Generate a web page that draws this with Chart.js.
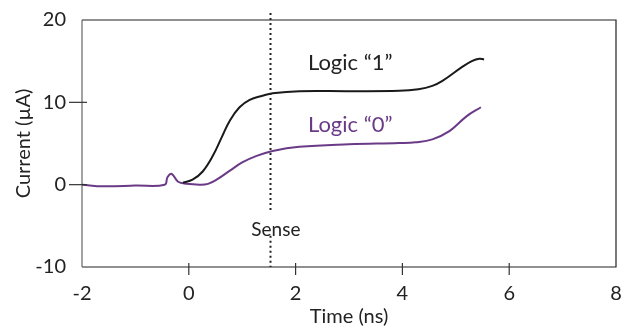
<!DOCTYPE html>
<html>
<head>
<meta charset="utf-8">
<script src="https://cdn.jsdelivr.net/npm/chart.js@4"></script>
<style>
  html, body { margin: 0; padding: 0; background: #fff; }
  #wrap { width: 631px; height: 333px; }
</style>
</head>
<body>
<div id="wrap"><canvas id="myChart"></canvas></div>
<script>
// time in ns, current in uA
const timeOne = [-0.11, 0.07, 0.26, 0.45, 0.62, 0.77, 0.95, 1.14, 1.38, 1.57, 2.07, 3.0, 3.94, 4.3, 4.56, 4.75, 5.12, 5.3, 5.44, 5.53];
const currentOne = [0.24, 0.6, 1.6, 3.5, 5.8, 7.8, 9.4, 10.3, 10.8, 11.1, 11.35, 11.35, 11.4, 11.6, 12.0, 12.6, 14.3, 15.0, 15.3, 15.2];
const timeZero = [-2.0, -1.6, -1.0, -0.45, -0.4, -0.32, -0.2, -0.04, 0.2, 0.36, 0.52, 0.77, 1.0, 1.27, 1.57, 2.07, 3.0, 3.94, 4.25, 4.56, 4.88, 5.2, 5.47];
const currentZero = [0.0, -0.2, -0.1, 0.0, 0.9, 1.3, 0.35, 0.1, 0.0, 0.1, 0.6, 1.7, 2.7, 3.5, 4.1, 4.6, 4.9, 5.05, 5.15, 5.5, 6.5, 8.3, 9.4];
const xTicks = [-2, 0, 2, 4, 6, 8];
const yTicks = [-10, 0, 10, 20];
const senseTime = 1.53;

const purple = '#6b3a87';
const font = "Lato, sans-serif";

function toPoints(xs, ys) {
  return xs.map((x, i) => ({ x: x, y: ys[i] }));
}

const framePlugin = {
  id: 'frame',
  afterDraw(chart) {
    const ctx = chart.ctx;
    const a = chart.chartArea;
    const xs = chart.scales.x, ys = chart.scales.y;
    ctx.save();
    ctx.lineWidth = 1.2;
    // box
    ctx.strokeStyle = '#222';
    ctx.beginPath();
    ctx.moveTo(a.left, a.top); ctx.lineTo(a.right, a.top);
    ctx.lineTo(a.right, a.bottom); ctx.lineTo(a.left, a.bottom);
    ctx.stroke();
    ctx.strokeStyle = '#666';
    ctx.beginPath();
    ctx.moveTo(a.left, a.top); ctx.lineTo(a.left, a.bottom);
    ctx.stroke();
    // ticks crossing the axes
    ctx.strokeStyle = '#333';
    xTicks.slice(1, -1).forEach(v => {
      const px = xs.getPixelForValue(v);
      ctx.beginPath(); ctx.moveTo(px, a.bottom - 4); ctx.lineTo(px, a.bottom + 8); ctx.stroke();
    });
    yTicks.slice(1, -1).forEach(v => {
      const py = ys.getPixelForValue(v);
      ctx.beginPath(); ctx.moveTo(a.left - 13, py); ctx.lineTo(a.left + 5, py); ctx.stroke();
    });
    // sense line
    const sx = xs.getPixelForValue(senseTime);
    ctx.strokeStyle = '#222';
    ctx.lineWidth = 2;
    ctx.setLineDash([2, 3]);
    ctx.beginPath(); ctx.moveTo(sx, a.top - 7); ctx.lineTo(sx, ys.getPixelForValue(-3.4)); ctx.stroke();
    ctx.beginPath(); ctx.moveTo(sx, ys.getPixelForValue(-6.2)); ctx.lineTo(sx, a.bottom); ctx.stroke();
    ctx.setLineDash([]);
    // labels
    ctx.textBaseline = 'middle';
    ctx.textAlign = 'center';
    ctx.fillStyle = '#222';
    ctx.font = '19px ' + font;
    ctx.fillText('Sense', xs.getPixelForValue(1.63), ys.getPixelForValue(-5.5));
    ctx.font = '22px ' + font;
    ctx.textAlign = 'left';
    ctx.fillText('Logic \u201c1\u201d', xs.getPixelForValue(2.23), ys.getPixelForValue(14.8));
    ctx.fillStyle = purple;
    ctx.fillText('Logic \u201c0\u201d', xs.getPixelForValue(2.23), ys.getPixelForValue(7.2));
    ctx.restore();
  }
};

new Chart(document.getElementById('myChart'), {
  type: 'line',
  data: {
    datasets: [{
        data: toPoints(timeOne, currentOne),
        borderColor: '#1a1a1a',
        borderWidth: 2,
        pointRadius: 0,
        tension: 0.4,
        fill: false
      }, {
        data: toPoints(timeZero, currentZero),
        borderColor: purple,
        borderWidth: 2,
        pointRadius: 0,
        tension: 0.4,
        fill: false
      }
    ]
  },
  options: {
    responsive: true,
    maintainAspectRatio: false,
    animation: false,
    layout: { padding: { left: 8, right: 15, top: 14, bottom: 0 } },
    plugins: {
      legend: { display: false },
      tooltip: { enabled: false }
    },
    scales: {
      x: {
        type: 'linear',
        min: -2, max: 8,
        afterBuildTicks: s => { s.ticks = xTicks.map(v => ({ value: v })); },
        afterFit: s => { s.height = 66; },
        grid: { display: false },
        border: { display: false },
        ticks: { color: '#222', font: { family: font, size: 20 }, padding: 7 },
        title: { display: true, text: 'Time (ns)', color: '#222', font: { family: font, size: 20 }, padding: { top: 2 } }
      },
      y: {
        min: -10, max: 20,
        afterBuildTicks: s => { s.ticks = yTicks.map(v => ({ value: v })); },
        afterFit: s => { s.width = 74; },
        grid: { display: false },
        border: { display: false },
        ticks: { color: '#222', font: { family: font, size: 20 }, padding: 8 },
        title: { display: true, text: 'Current (\u00b5A)', color: '#222', font: { family: font, size: 20 }, padding: { bottom: 4 } }
      }
    }
  },
  plugins: [framePlugin]
});
</script>
</body>
</html>
